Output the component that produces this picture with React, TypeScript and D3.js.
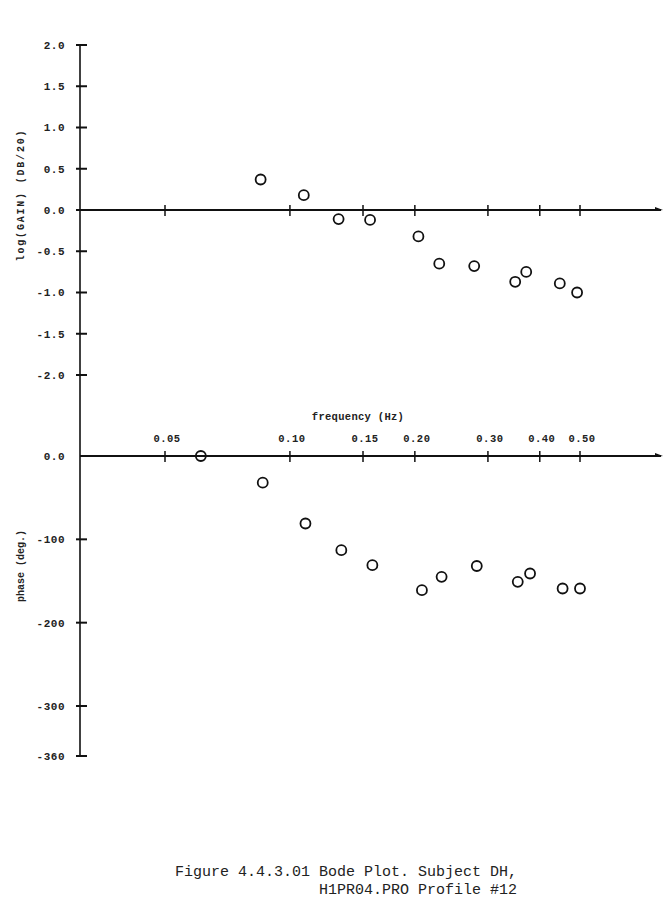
import React from "react";
import * as d3 from "d3";

// frequency axis (shared by both panels)
const freqTicks = [0.05, 0.1, 0.15, 0.2, 0.3, 0.4, 0.5];
const freqTickLabels = ["0.05", "0.10", "0.15", "0.20", "0.30", "0.40", "0.50"];

// gain panel
const gainTicks = [2.0, 1.5, 1.0, 0.5, 0.0, -0.5, -1.0, -1.5, -2.0];
const gainTickLabels = ["2.0", "1.5", "1.0", "0.5", "0.0", "-0.5", "-1.0", "-1.5", "-2.0"];
const gainFreq = [0.085, 0.108, 0.131, 0.156, 0.204, 0.229, 0.278, 0.349, 0.371, 0.447, 0.492];
const gainValues = [0.37, 0.18, -0.11, -0.12, -0.32, -0.65, -0.68, -0.87, -0.75, -0.89, -1.0];

// phase panel
const phaseTicks = [0, -100, -200, -300, -360];
const phaseTickLabels = ["0.0", "-100", "-200", "-300", "-360"];
const phaseFreq = [0.061, 0.086, 0.109, 0.133, 0.158, 0.208, 0.232, 0.282, 0.354, 0.379, 0.454, 0.5];
const phaseValues = [0, -32, -81, -113, -131, -161, -145, -132, -151, -141, -159, -159];

const W = 669;
const H = 906;
const axisX = 80;
const axisRight = 663;

const mono = "'Liberation Mono', 'DejaVu Sans Mono', monospace";

export default function App() {
  const x = d3.scaleLog().domain([0.05, 0.5]).range([165, 580]);
  const yGain = d3.scaleLinear().domain([-2, 2]).range([375, 45]);
  const yPhase = d3.scaleLinear().domain([-360, 0]).range([756, 456]);

  const g0 = yGain(0);
  const p0 = yPhase(0);

  const hAxis = (y: number, key: string) => (
    <g key={key}>
      <line x1={axisX} x2={axisRight - 2} y1={y} y2={y} stroke="#111" strokeWidth={2} />
      <path d={`M${axisRight - 8},${y - 3} L${axisRight},${y} L${axisRight - 8},${y + 1} Z`} fill="#111" />
      {freqTicks.map((f) => (
        <line key={f} x1={x(f)} x2={x(f)} y1={y - 5} y2={y + 6} stroke="#111" strokeWidth={1.5} />
      ))}
    </g>
  );

  return (
    <svg width={W} height={H} style={{ position: "absolute", left: 0, top: 0, background: "#fff" }}>
      {/* vertical axis */}
      <line x1={axisX} x2={axisX} y1={yGain(2)} y2={yPhase(-360)} stroke="#111" strokeWidth={1.6} />

      {/* gain ticks */}
      {gainTicks.map((t, i) => (
        <g key={"g" + t}>
          <line x1={axisX - 4} x2={axisX + 7} y1={yGain(t)} y2={yGain(t)} stroke="#111" strokeWidth={2} />
          <text x={65} y={yGain(t)} dy="0.35em" textAnchor="end" fontFamily={mono} fontSize={11} fontWeight="bold" fill="#222" letterSpacing={0.5}>
            {gainTickLabels[i]}
          </text>
        </g>
      ))}

      {/* phase ticks */}
      {phaseTicks.map((t, i) => (
        <g key={"p" + t}>
          {t !== 0 && (
            <line x1={axisX - 4} x2={axisX + 7} y1={yPhase(t)} y2={yPhase(t)} stroke="#111" strokeWidth={2} />
          )}
          <text x={65} y={yPhase(t)} dy="0.35em" textAnchor="end" fontFamily={mono} fontSize={11} fontWeight="bold" fill="#222" letterSpacing={0.5}>
            {phaseTickLabels[i]}
          </text>
        </g>
      ))}

      {hAxis(g0, "gainAxis")}
      {hAxis(p0, "phaseAxis")}

      {/* frequency labels */}
      {freqTicks.map((f, i) => (
        <text key={"fl" + f} x={x(f) + 2} y={p0 - 14} textAnchor="middle" fontFamily={mono} fontSize={10.5} fontWeight="bold" fill="#222" letterSpacing={0.5}>
          {freqTickLabels[i]}
        </text>
      ))}
      <text x={358} y={420} textAnchor="middle" fontFamily={mono} fontSize={10.5} fontWeight="bold" fill="#222" letterSpacing={0.3}>
        frequency (Hz)
      </text>

      {/* axis titles */}
      <text transform={`translate(24,195) rotate(-90)`} textAnchor="middle" fontFamily={mono} fontSize={10} fontWeight="bold" fill="#222" letterSpacing={1.8}>
        log(GAIN) (DB/20)
      </text>
      <text transform={`translate(24,566) rotate(-90)`} textAnchor="middle" fontFamily={mono} fontSize={10} fontWeight="bold" fill="#222">
        phase (deg.)
      </text>

      {/* gain points */}
      {gainValues.map((v, i) => (
        <circle key={"gc" + i} cx={x(gainFreq[i])} cy={yGain(v)} r={5} fill="none" stroke="#111" strokeWidth={1.8} />
      ))}

      {/* phase points */}
      {phaseValues.map((v, i) => (
        <circle key={"pc" + i} cx={x(phaseFreq[i])} cy={yPhase(v)} r={5} fill="none" stroke="#111" strokeWidth={1.8} />
      ))}

      {/* caption */}
      <text x={175} y={876} fontFamily={mono} fontSize={15} fill="#222">
        Figure 4.4.3.01 Bode Plot. Subject DH,
      </text>
      <text x={175} y={894} fontFamily={mono} fontSize={15} fill="#222" style={{ whiteSpace: "pre" }}>
        {"                H1PR04.PRO Profile #12"}
      </text>
    </svg>
  );
}
